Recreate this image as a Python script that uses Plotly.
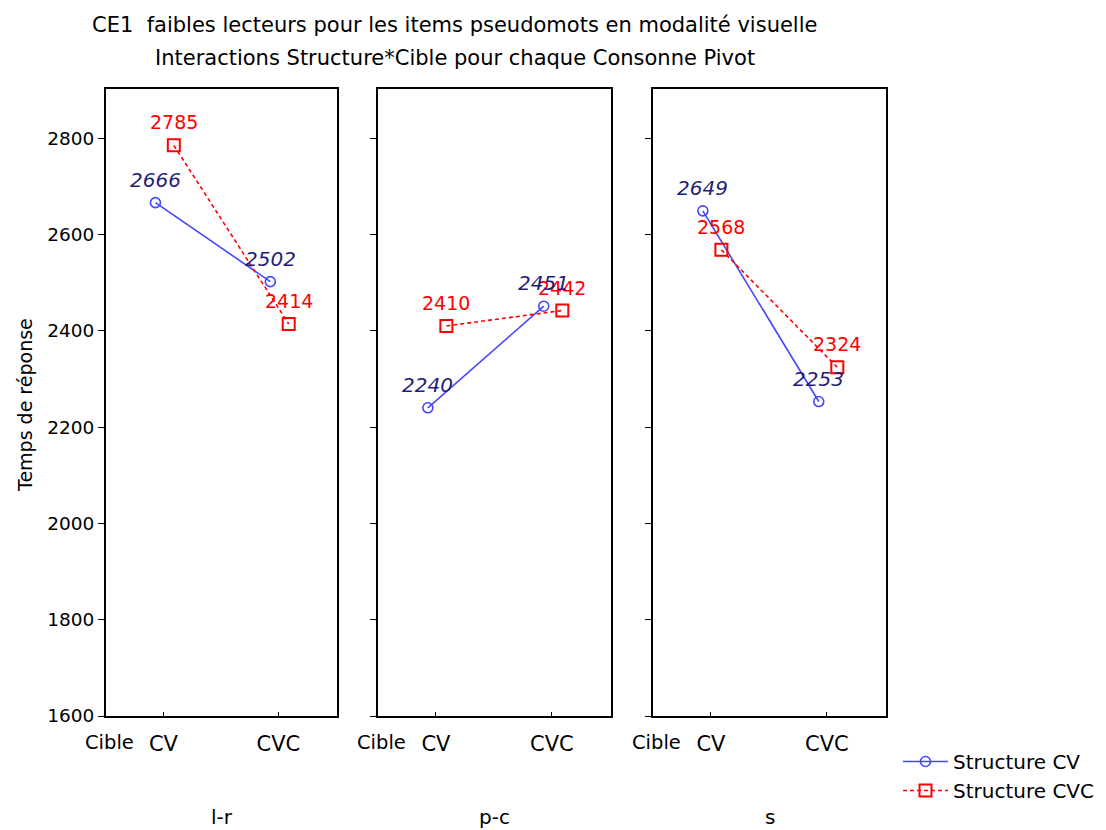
import plotly.graph_objects as go

# Temps de réponse moyen (ms) par consonne pivot, cible et structure
pivots = ["l-r", "p-c", "s"]
cibles = ["CV", "CVC"]
structure_cv = [[2666, 2502], [2240, 2451], [2649, 2253]]
structure_cvc = [[2785, 2414], [2410, 2442], [2568, 2324]]
y_ticks = [1600, 1800, 2000, 2200, 2400, 2600, 2800]

W, H = 1106, 830
FONT = "DejaVu Sans"

# panel edges in pixels
panel_px = [(106, 337), (378, 611), (653, 886)]
top_px, bottom_px = 89, 716


def px_x(p):
    return p / W


def px_y(p):
    return 1 - p / H


BLUE = "#4646ff"
RED = "#ff0000"
NAVY = "#1e1e78"

fig = go.Figure()

for i, name in enumerate(pivots):
    ax = "" if i == 0 else str(i + 1)
    xref, yref = "x" + ax, "y" + ax
    pos = list(range(len(cibles)))
    cv_x = [p - 0.07 for p in pos]
    cvc_x = [p + 0.09 for p in pos]

    fig.add_trace(go.Scatter(
        x=cv_x, y=structure_cv[i], xaxis=xref, yaxis=yref,
        mode="lines+markers", name="Structure CV", legendgroup="cv",
        showlegend=(i == 0),
        line=dict(color=BLUE, width=1.6),
        marker=dict(symbol="circle-open", size=10, color=BLUE, line=dict(width=1.6)),
    ))
    fig.add_trace(go.Scatter(
        x=cvc_x, y=structure_cvc[i], xaxis=xref, yaxis=yref,
        mode="lines+markers", name="Structure CVC", legendgroup="cvc",
        showlegend=(i == 0),
        line=dict(color=RED, width=1.6, dash="4px,3px"),
        marker=dict(symbol="square-open", size=12, color=RED, line=dict(width=2)),
    ))

    # value labels above each point
    for xv, yv in zip(cvc_x, structure_cvc[i]):
        fig.add_annotation(x=xv, y=yv, xref=xref, yref=yref, text=str(yv),
                           showarrow=False, yshift=23,
                           font=dict(family=FONT, size=19, color=RED))
    for xv, yv in zip(cv_x, structure_cv[i]):
        fig.add_annotation(x=xv, y=yv, xref=xref, yref=yref, text=f"<i>{yv}</i>",
                           showarrow=False, yshift=23,
                           font=dict(family=FONT, size=20, color=NAVY))

    left, right = panel_px[i]
    fig.update_layout({
        "xaxis" + ax: dict(
            domain=[px_x(left), px_x(right)], range=[-0.5, 1.51],
            tickvals=pos, ticktext=cibles, ticks="inside", ticklen=4,
            tickcolor="black", showline=True, mirror=True, linecolor="black",
            linewidth=2, showgrid=False, zeroline=False, anchor=yref,
            automargin=False,
            tickfont=dict(family=FONT, size=21, color="black"),
            ticklabelstandoff=8,
        ),
        "yaxis" + ax: dict(
            domain=[px_y(bottom_px), px_y(top_px)], range=[1600, 2902],
            tickvals=y_ticks, showticklabels=(i == 0), ticks="outside", ticklen=6,
            tickcolor="black", showline=True, mirror=True, linecolor="black",
            linewidth=2, showgrid=False, zeroline=False, anchor=xref,
            automargin=False,
            tickfont=dict(family=FONT, size=18.5, color="black"),
        ),
    })

    # "Cible" factor label at the left of each x axis
    fig.add_annotation(x=px_x(left + 3), y=px_y(742), xref="paper", yref="paper",
                       text="Cible", showarrow=False, xanchor="center", yanchor="middle",
                       font=dict(family=FONT, size=19.5, color="black"))
    # pivot consonant name under each panel
    fig.add_annotation(x=px_x((left + right) / 2), y=px_y(817), xref="paper", yref="paper",
                       text=name, showarrow=False, xanchor="center", yanchor="middle",
                       font=dict(family=FONT, size=20, color="black"))

fig.add_annotation(x=px_x(25), y=px_y(405), xref="paper", yref="paper",
                   text="Temps de réponse", textangle=-90, showarrow=False,
                   xanchor="center", yanchor="middle",
                   font=dict(family=FONT, size=19, color="black"))

fig.add_annotation(x=px_x(454), y=px_y(25), xref="paper", yref="paper",
                   text="CE1  faibles lecteurs pour les items pseudomots en modalité visuelle",
                   showarrow=False, xanchor="center", yanchor="middle",
                   font=dict(family=FONT, size=21, color="black"))
fig.add_annotation(x=px_x(455), y=px_y(58), xref="paper", yref="paper",
                   text="Interactions Structure*Cible pour chaque Consonne Pivot",
                   showarrow=False, xanchor="center", yanchor="middle",
                   font=dict(family=FONT, size=21, color="black"))

fig.update_layout(
    width=W, height=H, margin=dict(l=0, r=0, t=0, b=0),
    paper_bgcolor="white", plot_bgcolor="white",
    showlegend=True,
    legend=dict(x=px_x(898), y=px_y(742), xanchor="left", yanchor="top",
                font=dict(family=FONT, size=20, color="black"),
                itemwidth=45,
                bgcolor="rgba(0,0,0,0)", tracegroupgap=0),
)

fig.write_html("out.html")
